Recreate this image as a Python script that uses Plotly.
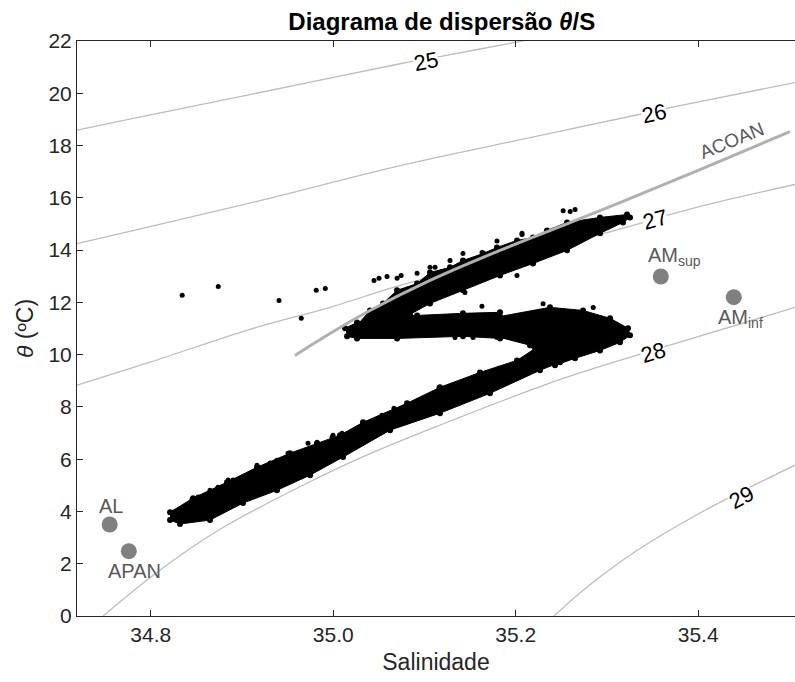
import plotly.graph_objects as go

# ---- isopycnal curves (salinity, potential temperature) ----
sig25_s = [34.7192, 34.7795, 34.9198, 35.0732, 35.1225, 35.2025, 35.2100]
sig25_t = [18.59, 19.03, 20.03, 21.13, 21.44, 21.97, 22.02]
sig26_s = [34.7192, 34.7992, 34.9198, 35.0732, 35.2157, 35.3286, 35.3691, 35.5061]
sig26_t = [14.25, 14.90, 15.89, 17.23, 18.30, 19.14, 19.45, 20.41]
sig27_s = [34.7192, 34.7992, 34.9088, 34.9965, 35.0732, 35.1828, 35.3000, 35.4020, 35.5061]
sig27_t = [8.83, 9.71, 10.97, 11.81, 12.65, 13.66, 14.67, 15.67, 16.51]
sig28_s = [34.7478, 34.8102, 34.8760, 34.9780, 35.0293, 35.1030, 35.2520, 35.3690, 35.5061]
sig28_t = [0.00, 1.76, 3.32, 5.20, 6.04, 7.11, 9.09, 10.36, 11.81]
sig29_s = [35.2420, 35.2740, 35.3287, 35.4020, 35.5061]
sig29_t = [0.00, 0.99, 2.41, 3.94, 5.77]

isopycnals = [(sig25_s, sig25_t), (sig26_s, sig26_t), (sig27_s, sig27_t),
              (sig28_s, sig28_t), (sig29_s, sig29_t)]

# contour labels
sig_labels = ["25", "26", "27", "28", "29"]
sig_label_s = [35.1018, 35.3519, 35.3529, 35.3507, 35.4470]
sig_label_t = [21.20, 19.22, 15.17, 10.09, 4.55]
sig_label_angle = [-11, -12, -15, -17, -28]

# ---- ACOAN reference line ----
acoan_s = [34.958, 34.9965, 35.0403, 35.1061, 35.1828, 35.2486, 35.3176, 35.4020, 35.5006]
acoan_t = [9.97, 10.81, 11.69, 12.84, 13.99, 14.90, 15.86, 17.08, 18.53]

# ---- water mass indices ----
wm_names = ["AL", "APAN", "AM<sub>sup</sub>", "AM<sub>inf</sub>"]
wm_s = [34.755, 34.776, 35.359, 35.439]
wm_t = [3.50, 2.48, 12.99, 12.20]

# ---- CTD profile cloud: outlines of the dense branches ----
lower_branch_s = [34.8212, 34.8464, 34.8836, 34.9165, 34.9527, 34.9823, 35.0075, 35.0327,
                  35.0809, 35.1170, 35.1609, 35.2014, 35.2266,
                  35.2486, 35.2266, 35.1718, 35.1170, 35.0623, 35.0108, 34.9746,
                  34.9384, 34.9011, 34.8650, 34.8321, 34.8212]
lower_branch_t = [3.97, 4.51, 5.12, 5.69, 6.23, 6.61, 6.92, 7.41,
                  8.14, 8.75, 9.32, 9.78, 10.36,
                  9.71, 9.40, 8.52, 7.76, 7.11, 6.08, 5.39,
                  4.81, 4.32, 3.67, 3.52, 3.67]

warm_cluster_s = [35.1828, 35.2376, 35.2738, 35.3034, 35.3231, 35.3253, 35.3143, 35.2924,
                  35.2650, 35.2431, 35.2266, 35.2157, 35.1828]
warm_cluster_t = [11.46, 11.81, 11.69, 11.39, 11.01, 10.74, 10.47, 10.16,
                  9.86, 9.59, 9.78, 10.36, 10.66]

middle_branch_s = [35.0130, 35.0261, 35.0513, 35.0919, 35.1422, 35.1828,
                   35.1828, 35.1422, 35.0700, 35.0261, 35.0152]
middle_branch_t = [11.01, 11.23, 11.46, 11.50, 11.58, 11.62,
                   10.62, 10.70, 10.62, 10.62, 10.70]

upper_branch_s = [35.0184, 35.0261, 35.0403, 35.0546, 35.0700, 35.0919, 35.1061, 35.1280,
                  35.1422, 35.1642, 35.1795, 35.2014, 35.2190, 35.2343, 35.2563, 35.2924,
                  35.3220, 35.3253,
                  35.3176, 35.2924, 35.2563, 35.2190, 35.1828, 35.1422, 35.1061, 35.0842,
                  35.0623, 35.0294]
upper_branch_t = [10.81, 11.12, 11.69, 11.96, 12.46, 12.72, 13.14, 13.34,
                  13.60, 13.87, 14.10, 14.37, 14.48, 14.75, 15.06, 15.25,
                  15.36, 15.25,
                  15.06, 14.64, 13.99, 13.49, 13.03, 12.46, 11.96, 11.54,
                  11.23, 10.74]

branches = [(lower_branch_s, lower_branch_t), (warm_cluster_s, warm_cluster_t),
            (middle_branch_s, middle_branch_t), (upper_branch_s, upper_branch_t)]

# isolated samples around the branches
stray_s = [34.8345, 34.8740, 34.9406, 34.9650, 34.9814, 34.9913, 35.0447, 35.0502, 35.0590,
           35.0700, 35.0744, 35.0919, 35.1116, 35.1422, 35.1631, 35.2069, 35.2520, 35.2597,
           35.2651, 35.1444, 35.2014, 35.1631, 35.1795, 35.1960, 35.1631, 35.1817, 35.1160,
           35.1379, 35.0973, 35.1335, 35.1532, 34.8520, 34.8849, 34.9165, 34.9505, 34.9724,
           34.9998, 35.0097,
           34.8244, 34.8453, 34.8650, 34.8737, 34.8902, 34.9198, 34.9308, 34.9384, 34.9823,
           34.9987, 35.0217, 35.0327, 35.0535, 35.0666, 35.1061, 35.1795, 35.2069, 35.1280,
           35.1630, 35.2300, 35.2850]
stray_t = [12.27, 12.61, 12.07, 11.39, 12.46, 12.53, 12.84, 12.92, 12.99,
           12.92, 13.03, 13.11, 13.34, 13.87, 13.91, 14.64, 15.51, 15.48,
           15.55, 12.38, 13.03, 10.93, 10.66, 11.01, 9.25, 9.48, 8.75,
           8.83, 8.25, 10.66, 10.66, 4.55, 5.20, 5.77, 6.23, 6.61,
           6.92, 6.99,
           3.97, 4.47, 4.81, 4.93, 5.20, 5.66, 5.85, 5.96, 6.65,
           6.84, 7.03, 7.41, 7.68, 7.95, 13.34, 14.35, 14.60, 13.60,
           11.85, 11.95, 11.80]

AXIS = "#262626"
GRAY_LINE = "#bdbdbd"
FONT = "Liberation Sans, Arial, sans-serif"

fig = go.Figure()

for s, t in isopycnals:
    fig.add_trace(go.Scatter(x=s, y=t, mode="lines",
                             line=dict(color=GRAY_LINE, width=1.3, shape="spline", smoothing=1),
                             hoverinfo="skip", showlegend=False))

for s, t in branches:
    fig.add_trace(go.Scatter(x=s, y=t, mode="lines+markers", fill="toself",
                             fillcolor="black", line=dict(color="black", width=1),
                             marker=dict(color="black", size=6), showlegend=False))

fig.add_trace(go.Scatter(x=stray_s, y=stray_t, mode="markers",
                         marker=dict(color="black", size=5), showlegend=False))

fig.add_trace(go.Scatter(x=acoan_s, y=acoan_t, mode="lines",
                         line=dict(color="#b0b0b0", width=3, shape="spline", smoothing=1),
                         showlegend=False))

fig.add_trace(go.Scatter(x=wm_s, y=wm_t, mode="markers",
                         marker=dict(color="#808080", size=16), showlegend=False))

# contour labels
for lab, s, t, ang in zip(sig_labels, sig_label_s, sig_label_t, sig_label_angle):
    fig.add_annotation(x=s, y=t, text=lab, showarrow=False, textangle=ang,
                       font=dict(family=FONT, size=22, color="black"),
                       bgcolor="white", borderpad=0, xanchor="center", yanchor="middle")

# water mass labels
wm_lab_font = dict(family=FONT, size=20, color="#595959")
fig.add_annotation(x=wm_s[0] + 0.002, y=wm_t[0] + 0.70, text=wm_names[0], showarrow=False,
                   font=wm_lab_font, xanchor="center", yanchor="middle")
fig.add_annotation(x=wm_s[1] + 0.006, y=wm_t[1] - 0.74, text=wm_names[1], showarrow=False,
                   font=wm_lab_font, xanchor="center", yanchor="middle")
fig.add_annotation(x=wm_s[2] - 0.016, y=wm_t[2] + 0.78, text=wm_names[2], showarrow=False,
                   font=wm_lab_font, xanchor="left", yanchor="middle")
fig.add_annotation(x=wm_s[3] - 0.019, y=wm_t[3] - 0.80, text=wm_names[3], showarrow=False,
                   font=wm_lab_font, xanchor="left", yanchor="middle")

fig.add_annotation(x=35.437, y=18.19, text="ACOAN", showarrow=False, textangle=-22,
                   font=dict(family=FONT, size=19, color="#595959"),
                   xanchor="center", yanchor="middle")

fig.update_layout(
    width=795, height=682,
    margin=dict(l=77, r=0, t=41, b=66),
    paper_bgcolor="white", plot_bgcolor="white",
    font=dict(family=FONT, size=21, color=AXIS),
    title=dict(text="<b>Diagrama de dispersão <i>θ</i>/S</b>", x=0.508, xref="paper",
               xanchor="center", y=1 - 22 / 682, yref="container", yanchor="middle",
               font=dict(family=FONT, size=24, color="black")),
    showlegend=False,
)

fig.update_xaxes(range=[34.7192, 35.5061], showgrid=False, zeroline=False,
                 showline=True, linecolor=AXIS, linewidth=1, mirror="ticks",
                 ticks="inside", ticklen=6, tickcolor=AXIS,
                 tickvals=[34.8, 35.0, 35.2, 35.4], ticktext=["34.8", "35.0", "35.2", "35.4"],
                 tickfont=dict(family=FONT, size=21, color=AXIS),
                 title=dict(text="Salinidade", standoff=8,
                            font=dict(family=FONT, size=23, color=AXIS)))
fig.update_yaxes(range=[0, 22], showgrid=False, zeroline=False,
                 showline=True, linecolor=AXIS, linewidth=1,
                 ticks="inside", ticklen=6, tickcolor=AXIS,
                 tickvals=list(range(0, 23, 2)),
                 tickfont=dict(family=FONT, size=21, color=AXIS),
                 title=dict(text="<i>θ</i> (ºC)", standoff=8,
                            font=dict(family=FONT, size=23, color=AXIS)))

fig.write_html("out.html")
